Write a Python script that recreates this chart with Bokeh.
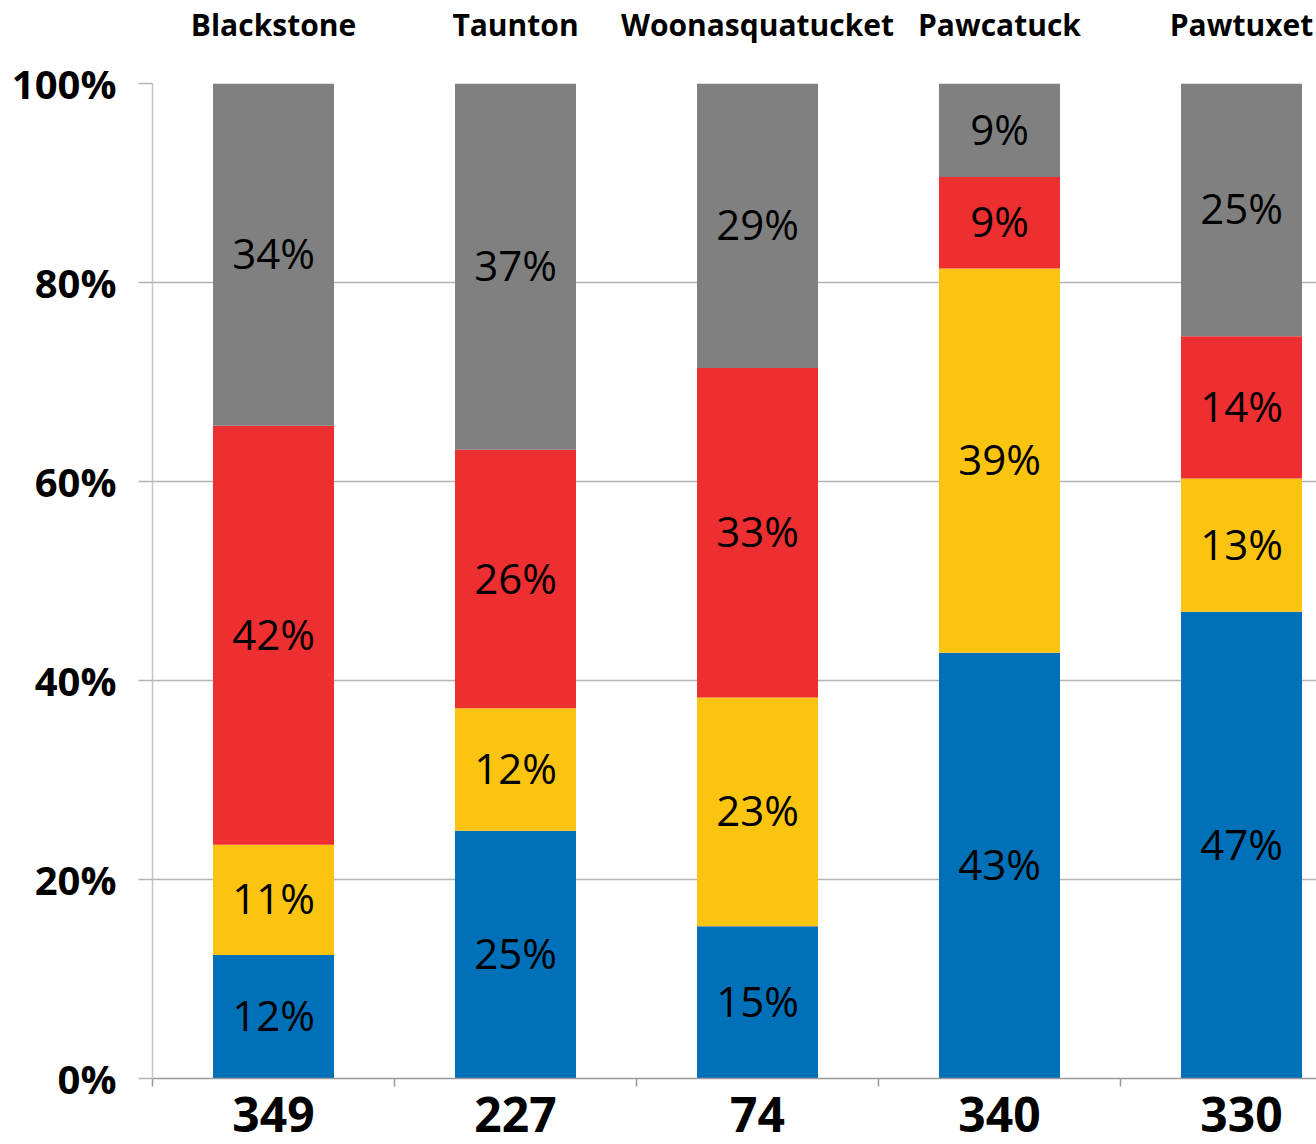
from bokeh.plotting import figure
from bokeh.models import Range1d, LinearAxis, FixedTicker, NumeralTickFormatter, ColumnDataSource
from bokeh.core.properties import value
from bokeh.embed import file_html
from bokeh.resources import INLINE

rivers = ["Blackstone", "Taunton", "Woonasquatucket", "Pawcatuck", "Pawtuxet"]
counts = ["349", "227", "74", "340", "330"]
blue = [12.4, 24.9, 15.3, 42.8, 46.9]
yellow = [11.1, 12.3, 23.0, 38.6, 13.4]
red = [42.1, 26.0, 33.1, 9.2, 14.3]
gray = [34.4, 36.8, 28.6, 9.4, 25.4]
y_ticks = [0, 0.2, 0.4, 0.6, 0.8, 1.0]

series = ["blue", "yellow", "red", "gray"]
colors = ["#0070B8", "#FAC411", "#EE2F32", "#808080"]
values = {"blue": blue, "yellow": yellow, "red": red, "gray": gray}

n = len(rivers)
centers = [i + 0.5 for i in range(n)]
data = {"x": centers}
for s in series:
    data[s] = [v / 100 for v in values[s]]
src = ColumnDataSource(data)

W, H = 1316, 1144
left_b, top_b, bottom_b = 152, 75, 66
frame_w = W - left_b
step_px = 242
p = figure(width=W, height=H, output_backend="svg", toolbar_location=None,
           x_range=Range1d(0, frame_w / step_px), y_range=Range1d(0, 1),
           min_border_left=left_b, min_border_right=0, min_border_top=top_b,
           min_border_bottom=bottom_b)
p.outline_line_color = None
p.background_fill_color = "white"

p.vbar_stack(series, x="x", width=0.5, source=src, color=colors, line_color=None)

# segment labels
lx, ly, lt = [], [], []
for i in range(n):
    base = 0.0
    for s in series:
        v = values[s][i]
        lx.append(centers[i])
        ly.append((base + v / 2) / 100)
        lt.append(f"{round(v)}%")
        base += v
p.text(x=lx, y=ly, text=lt, text_align="center", text_baseline="middle",
       text_font=value("Open Sans"), text_font_size="42px", text_color="black",
       y_offset=-2)

# grid
p.xgrid.visible = False
p.ygrid.ticker = FixedTicker(ticks=y_ticks)
p.ygrid.grid_line_color = "#b3b3b3"
p.ygrid.grid_line_width = 1.5

# y axis
ya = p.yaxis[0]
ya.ticker = FixedTicker(ticks=y_ticks)
ya.formatter = NumeralTickFormatter(format="0%")
ya.axis_line_color = "#c4c4c4"
ya.axis_line_width = 1.5
ya.major_tick_line_color = "#b3b3b3"
ya.major_tick_line_width = 1.5
ya.major_tick_out = 14
ya.major_tick_in = 0
ya.minor_tick_line_color = None
ya.major_label_text_font = "Open Sans"
ya.major_label_text_font_style = "bold"
ya.major_label_text_font_size = "40px"
ya.major_label_text_color = "black"
ya.major_label_standoff = 22

# bottom axis (counts)
xa = p.xaxis[0]
xa.ticker = FixedTicker(ticks=centers, minor_ticks=list(range(n)))
xa.major_label_overrides = {c: t for c, t in zip(centers, counts)}
xa.major_tick_line_color = None
xa.minor_tick_line_color = "#999999"
xa.minor_tick_line_width = 1.5
xa.minor_tick_out = 8
xa.minor_tick_in = 0
xa.axis_line_color = "#999999"
xa.axis_line_width = 1.5
xa.major_label_text_font = "Open Sans"
xa.major_label_text_font_style = "bold"
xa.major_label_text_font_size = "48px"
xa.major_label_text_color = "black"
xa.major_label_standoff = 10

# top axis (river names)
top = LinearAxis(ticker=FixedTicker(ticks=centers),
                 major_label_overrides={c: t for c, t in zip(centers, rivers)})
top.axis_line_color = None
top.major_tick_line_color = None
top.minor_tick_line_color = None
top.major_label_text_font = "Open Sans"
top.major_label_text_font_style = "bold"
top.major_label_text_font_size = "30px"
top.major_label_text_color = "black"
top.major_label_standoff = 33
p.add_layout(top, "above")

open("out.html", "w").write(file_html(p, INLINE))
